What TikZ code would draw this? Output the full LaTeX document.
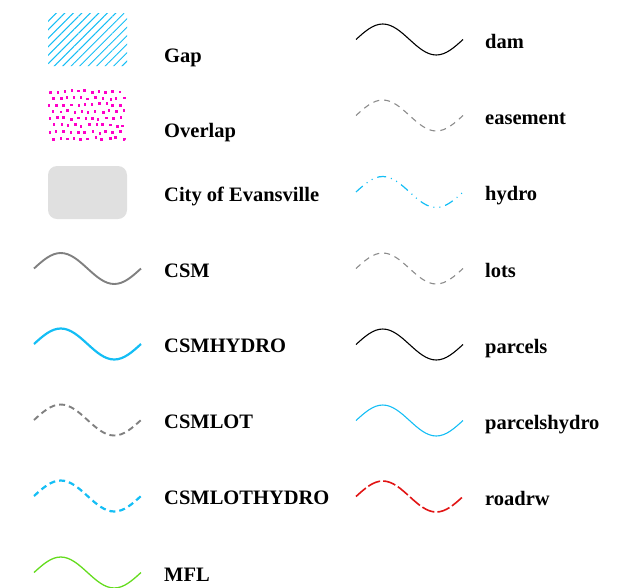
\documentclass[tikz,border=0pt]{standalone}
\usepackage{fontspec}
\setmainfont{Liberation Serif}
\usetikzlibrary{patterns.meta}
\definecolor{hydrocyan}{RGB}{20,190,245}
\definecolor{csmgray}{RGB}{128,128,128}
\definecolor{lotgray}{RGB}{140,140,140}
\definecolor{mflgreen}{RGB}{100,220,30}
\definecolor{roadred}{RGB}{225,20,20}
\definecolor{overlapmag}{RGB}{255,0,200}
\definecolor{cityfill}{RGB}{224,224,224}

\begin{document}
\begin{tikzpicture}[x=1pt,y=-1pt,
  lbl/.style={anchor=base west,inner sep=0pt,font=\bfseries\fontsize{20.5}{23}\selectfont},
  wave/.pic={\draw (0,0) sin (26.75,-15.5) cos (53.5,0) sin (80.25,15.5) cos (107,0);},
  csmln/.style={csmgray,line width=1.9pt},
  csmhydroln/.style={hydrocyan,line width=2.2pt},
  csmlotln/.style={csmgray,line width=1.9pt,dash pattern=on 6pt off 4pt},
  csmlothydroln/.style={hydrocyan,line width=2.2pt,dash pattern=on 6pt off 4pt},
  mflln/.style={mflgreen,line width=1.3pt},
  damln/.style={black,line width=1.1pt},
  easeln/.style={lotgray,line width=1.1pt,dash pattern=on 6pt off 5pt},
  hydroln/.style={hydrocyan,line width=1.2pt,dash pattern=on 9pt off 5pt on 1pt off 5pt on 1pt off 5pt},
  lotsln/.style={lotgray,line width=1.1pt,dash pattern=on 6pt off 5pt},
  parcelln/.style={black,line width=1.1pt},
  parhydroln/.style={hydrocyan,line width=1.1pt},
  roadln/.style={roadred,line width=1.6pt,dash pattern=on 13pt off 3pt}]
  \clip (0,0) rectangle (628,587);

  % area symbols
  \fill[pattern={Lines[angle=45,distance=6pt,line width=1pt]},pattern color=hydrocyan,
    rounded corners=3pt] (48,13) rectangle (127,66);
  \begin{scope}
    \clip[rounded corners=6pt] (48,89) rectangle (127,142);
    \pgfmathsetseed{11}
    \foreach \i in {0,...,10}
      \foreach \j in {0,...,7}{
        \pgfmathsetmacro{\dx}{49+7*\i+3.5*mod(\j,2)+2.4*rnd-1.2}
        \pgfmathsetmacro{\dy}{90+6.8*\j+2.4*rnd-1.2}
        \fill[overlapmag] (\dx,\dy) rectangle ++(2.5,2.8);
      }
  \end{scope}
  \fill[cityfill,rounded corners=9pt] (48,166) rectangle (127,219);

  \node[lbl] (gap) at (164,62) {Gap};
  \node[lbl] (overlap) at (164,137) {Overlap};
  \node[lbl] (city) at (164,201) {City of Evansville};

  % left column lines
  \pic[csmln] at (34,268.5) {wave};
  \node[lbl] (csm) at (164,277) {CSM};
  \pic[csmhydroln] at (34,344) {wave};
  \node[lbl] (csmhydro) at (164,352.5) {CSMHYDRO};
  \pic[csmlotln] at (34,420) {wave};
  \node[lbl] (csmlot) at (164,428.5) {CSMLOT};
  \pic[csmlothydroln] at (34,496) {wave};
  \node[lbl] (csmlothydro) at (164,504.5) {CSMLOTHYDRO};
  \pic[mflln] at (34,572.5) {wave};
  \node[lbl] (mfl) at (164,581) {MFL};

  % right column lines
  \pic[damln] at (356,39.5) {wave};
  \node[lbl] (dam) at (485,48) {dam};
  \pic[easeln] at (356,115.5) {wave};
  \node[lbl] (easement) at (485,124) {easement};
  \pic[hydroln] at (356,192) {wave};
  \node[lbl] (hydro) at (485,200.5) {hydro};
  \pic[lotsln] at (356,268.5) {wave};
  \node[lbl] (lots) at (485,277) {lots};
  \pic[parcelln] at (356,344.5) {wave};
  \node[lbl] (parcels) at (485,353) {parcels};
  \pic[parhydroln] at (356,420.5) {wave};
  \node[lbl] (parcelshydro) at (485,429) {parcelshydro};
  \pic[roadln] at (356,496.5) {wave};
  \node[lbl] (roadrw) at (485,505) {roadrw};
\end{tikzpicture}
\end{document}
